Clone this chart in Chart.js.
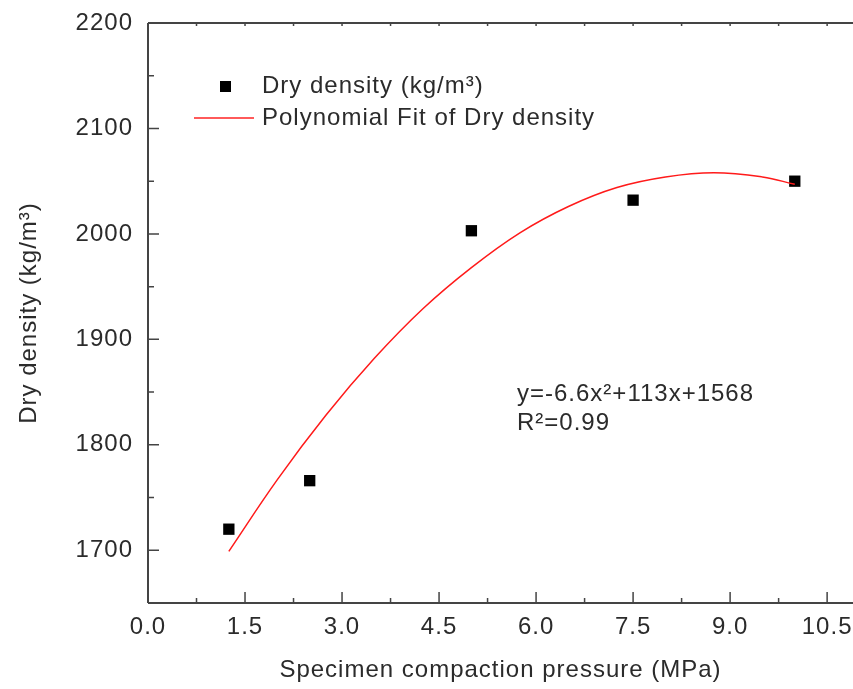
<!DOCTYPE html>
<html lang="en">
<head>
    <meta charset="UTF-8">
    <title>Dry density vs compaction pressure</title>
    <script src="https://cdn.jsdelivr.net/npm/chart.js"></script>
    <style>
        html, body { margin: 0; padding: 0; background: #fff; overflow: hidden; }
        #wrap { width: 853px; height: 689px; }
    </style>
</head>
<body>
    <div id="wrap"><canvas id="densityChart"></canvas></div>
    <script>
        // measured points
        const pressure = [1.25, 2.5, 5, 7.5, 10];
        const dryDensity = [1720, 1766, 2003, 2032, 2050];

        // fit curve
        const fitPressure = [1.25, 2, 2.75, 3.5, 4.25, 5, 5.75, 6.5, 7.25, 8, 8.75, 9.5, 10];
        const fitDensity = [1699, 1767, 1828, 1882, 1929, 1968, 2001, 2026, 2044, 2054, 2058, 2054, 2047];

        const xTicks = [0, 1.5, 3, 4.5, 6, 7.5, 9, 10.5];
        const xMinorTicks = [0.75, 2.25, 3.75, 5.25, 6.75, 8.25, 9.75];
        const yTicks = [1700, 1800, 1900, 2000, 2100, 2200];
        const yMinorTicks = [1650, 1750, 1850, 1950, 2050, 2150];

        const legendLabels = ['Dry density (kg/m\u00B3)', 'Polynomial Fit of Dry density'];
        const fitLabels = ['y=-6.6x\u00B2+113x+1568', 'R\u00B2=0.99'];

        const FONT = "'Liberation Sans', Arial, sans-serif";
        const TEXT = '#2b2b2b';
        const AXIS = '#444';

        document.addEventListener('DOMContentLoaded', function() {
            const ctx = document.getElementById('densityChart').getContext('2d');

            // the original text is a little wider than Liberation Sans
            const spacingPlugin = {
                id: 'spacingPlugin',
                beforeLayout: (chart) => { chart.ctx.letterSpacing = '1px'; },
                beforeDraw: (chart) => { chart.ctx.letterSpacing = '1px'; }
            };

            // axis lines + inward ticks, legend and fit text
            const framePlugin = {
                id: 'framePlugin',
                afterDraw: (chart) => {
                    const c = chart.ctx;
                    const a = chart.chartArea;
                    const xs = chart.scales.x;
                    const ys = chart.scales.y;
                    c.save();
                    c.strokeStyle = AXIS;
                    c.lineWidth = 2;
                    c.beginPath();
                    c.moveTo(a.left, a.top); c.lineTo(a.right, a.top);
                    c.moveTo(a.left, a.top); c.lineTo(a.left, a.bottom);
                    c.moveTo(a.left, a.bottom); c.lineTo(a.right, a.bottom);
                    c.stroke();

                    c.lineWidth = 1.5;
                    c.beginPath();
                    xTicks.forEach(v => {
                        const px = xs.getPixelForValue(v);
                        c.moveTo(px, a.bottom); c.lineTo(px, a.bottom - 11);
                        c.moveTo(px, a.top); c.lineTo(px, a.top + 3);
                    });
                    xMinorTicks.forEach(v => {
                        const px = xs.getPixelForValue(v);
                        c.moveTo(px, a.bottom); c.lineTo(px, a.bottom - 5);
                        c.moveTo(px, a.top); c.lineTo(px, a.top + 3);
                    });
                    yTicks.forEach(v => {
                        const py = ys.getPixelForValue(v);
                        c.moveTo(a.left, py); c.lineTo(a.left + 11, py);
                    });
                    yMinorTicks.forEach(v => {
                        const py = ys.getPixelForValue(v);
                        c.moveTo(a.left, py); c.lineTo(a.left + 6, py);
                    });
                    c.stroke();

                    // legend
                    c.fillStyle = '#000';
                    c.fillRect(220, 81, 11, 11);
                    c.strokeStyle = '#ff5a5a';
                    c.lineWidth = 2;
                    c.beginPath();
                    c.moveTo(194, 118); c.lineTo(254, 118);
                    c.stroke();

                    c.fillStyle = TEXT;
                    c.font = '24px ' + FONT;
                    c.textBaseline = 'middle';
                    c.textAlign = 'left';
                    c.fillText(legendLabels[0], 262, 86);
                    c.fillText(legendLabels[1], 262, 118);

                    c.fillText(fitLabels[0], 517, 394);
                    c.fillText(fitLabels[1], 517, 423);
                    c.restore();
                }
            };

            new Chart(ctx, {
                type: 'scatter',
                data: {
                    datasets: [{
                        label: legendLabels[1],
                        data: fitPressure.map((x, i) => ({ x: x, y: fitDensity[i] })),
                        showLine: true,
                        borderColor: '#ff1a1a',
                        borderWidth: 1.5,
                        pointRadius: 0,
                        tension: 0.4,
                        order: 0
                    }, {
                        label: legendLabels[0],
                        data: pressure.map((x, i) => ({ x: x, y: dryDensity[i] })),
                        pointStyle: 'rect',
                        pointRadius: 8,
                        backgroundColor: '#000',
                        borderColor: '#000',
                        borderWidth: 0,
                        order: 1
                    }]
                },
                options: {
                    animation: false,
                    responsive: true,
                    maintainAspectRatio: false,
                    layout: {
                        autoPadding: false,
                        padding: { top: 23, right: 0, bottom: 0, left: 0 }
                    },
                    scales: {
                        x: {
                            type: 'linear',
                            min: 0,
                            max: 10.9,
                            afterBuildTicks: (s) => { s.ticks = xTicks.map(v => ({ value: v })); },
                            afterFit: (s) => {
                                s.height = 86;
                                s.paddingLeft = 0;
                                s.paddingRight = 0;
                            },
                            grid: { display: false, drawTicks: false },
                            border: { display: false },
                            ticks: {
                                padding: 0,
                                color: TEXT,
                                font: { family: FONT, size: 24, lineHeight: 2 },
                                maxRotation: 0,
                                callback: (v) => v.toFixed(1)
                            },
                            title: {
                                display: true,
                                text: 'Specimen compaction pressure (MPa)',
                                color: TEXT,
                                font: { family: FONT, size: 24 },
                                padding: { top: 0, bottom: 4 }
                            }
                        },
                        y: {
                            min: 1650,
                            max: 2200,
                            afterBuildTicks: (s) => { s.ticks = yTicks.map(v => ({ value: v })); },
                            afterFit: (s) => {
                                s.width = 148;
                                s.paddingTop = 0;
                                s.paddingBottom = 0;
                            },
                            grid: { display: false, drawTicks: false },
                            border: { display: false },
                            ticks: {
                                padding: 15,
                                color: TEXT,
                                font: { family: FONT, size: 24 },
                                callback: (v) => String(v)
                            },
                            title: {
                                display: true,
                                text: 'Dry density (kg/m\u00B3)',
                                color: TEXT,
                                font: { family: FONT, size: 24 },
                                padding: { top: 15, bottom: 0 }
                            }
                        }
                    },
                    plugins: {
                        legend: { display: false },
                        tooltip: { enabled: false }
                    }
                },
                plugins: [spacingPlugin, framePlugin]
            });
        });
    </script>
</body>
</html>
